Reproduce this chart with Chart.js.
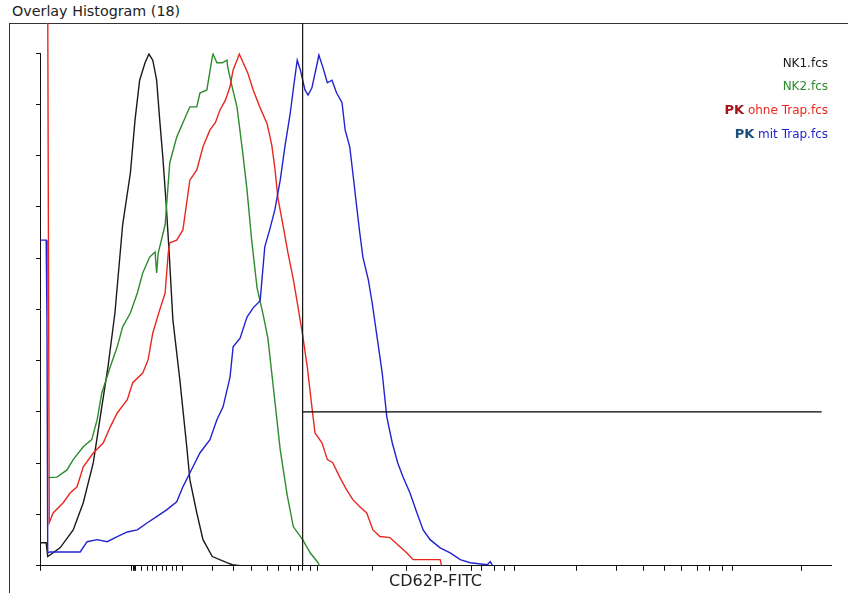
<!DOCTYPE html>
<html>
<head>
<meta charset="utf-8">
<script src="https://cdn.jsdelivr.net/npm/chart.js"></script>
<style>
  body { margin: 0; background: #fff; font-family: "DejaVu Sans", Verdana, sans-serif; }
  #wrap { position: relative; width: 848px; height: 593px; overflow: hidden; }
  #frame { position: absolute; left: 9px; top: 23px; width: 900px; height: 700px;
           border-left: 1px solid #333; border-top: 1px solid #333; }
  #title { position: absolute; left: 12px; top: 3px; font-size: 14.3px; color: #222; white-space: nowrap; }
  #legend { position: absolute; right: 20px; top: 52px; text-align: right; font-size: 12px; line-height: 23px; }
  #legend b { font-size: 13px; }
  canvas { position: absolute; left: 0; top: 0; }
</style>
</head>
<body>
<div id="wrap">
  <div id="frame"></div>
  <div id="title">Overlay Histogram (18)</div>
  <canvas id="myChart" width="848" height="593"></canvas>
  <div id="legend"></div>
</div>
<script>
    // channel (0-1024) and % of max count
    var nk1X = [0, 8, 10, 26, 43, 56, 69, 80, 88, 97, 107, 117, 123, 129, 136, 141, 146, 151, 155, 159, 163, 167, 172, 181, 190, 194, 203, 211, 223, 242, 249, 259]
    var nk1Y = [4.5, 4.5, 1.8, 3.5, 7.0, 12.3, 20.1, 31.0, 38.8, 49.3, 66.5, 76.6, 86.9, 94.7, 98.1, 99.8, 98.6, 94.7, 86.9, 79.7, 71.3, 61.6, 48.0, 36.3, 23.2, 16.8, 10.3, 5.1, 1.8, 0.6, 0.2, 0]

    var nk2X = [10, 22, 35, 43, 56, 67, 74, 80, 91, 100, 107, 117, 126, 133, 142, 149, 151, 153, 162, 168, 177, 185, 194, 203, 207, 216, 223, 224, 229, 236, 242, 243, 249, 255, 262, 268, 274, 281, 289, 295, 302, 311, 320, 328, 340, 350, 359, 362]
    var nk2Y = [17.2, 17.3, 18.7, 20.7, 23.2, 24.6, 28.5, 33.7, 38.8, 42.7, 46.6, 49.3, 53.2, 57.1, 60.2, 61.2, 57.1, 61.0, 66.5, 78.6, 83.6, 86.4, 89.5, 89.5, 92.2, 92.8, 99.2, 99.8, 98.1, 98.1, 98.6, 97.3, 93.2, 89.5, 81.1, 73.3, 63.5, 54.2, 48.9, 44.4, 34.9, 22.6, 13.8, 7.6, 5.1, 2.5, 0.8, 0]

    var pkOhneX = [10, 12, 17, 30, 39, 48, 56, 69, 82, 91, 100, 113, 120, 133, 140, 146, 155, 162, 166, 168, 177, 185, 194, 203, 211, 220, 227, 233, 240, 246, 250, 255, 258, 263, 269, 276, 285, 294, 300, 304, 308, 315, 321, 328, 334, 340, 346, 352, 356, 365, 372, 379, 388, 397, 405, 414, 423, 431, 440, 453, 466, 475, 483, 518, 520]
    var pkOhneY = [110, 8.4, 10.3, 12.3, 14.2, 15.4, 19.3, 22.0, 24.0, 27.1, 29.8, 32.4, 35.7, 37.6, 40.2, 45.4, 49.9, 53.2, 61.0, 63.0, 63.5, 65.5, 75.2, 77.2, 81.7, 85.0, 86.4, 88.9, 90.8, 93.4, 96.7, 98.6, 99.8, 98.1, 96.1, 92.8, 89.3, 86.2, 82.1, 77.6, 71.7, 66.1, 61.0, 55.8, 50.5, 45.0, 38.8, 31.0, 25.9, 24.0, 20.7, 20.1, 17.3, 14.8, 12.9, 11.5, 10.3, 7.0, 5.7, 5.5, 3.7, 2.5, 1.2, 1.2, 0]

    var pkMitX = [0, 8, 9, 10, 13, 52, 61, 74, 87, 100, 113, 126, 139, 151, 164, 177, 185, 194, 207, 220, 229, 237, 246, 250, 259, 268, 276, 285, 291, 298, 304, 311, 317, 324, 329, 333, 337, 343, 347, 352, 359, 361, 366, 372, 378, 384, 391, 395, 401, 405, 410, 414, 418, 425, 430, 436, 443, 449, 456, 463, 470, 479, 488, 496, 505, 518, 531, 544, 557, 579, 583, 586]
    var pkMitY = [63.5, 63.5, 48.3, 2.5, 2.7, 2.7, 4.7, 5.1, 4.7, 5.7, 6.6, 7.0, 8.4, 9.6, 10.9, 12.5, 15.4, 18.1, 22.0, 24.6, 28.5, 31.0, 36.8, 42.7, 44.4, 48.5, 50.3, 51.7, 62.2, 65.9, 69.4, 75.2, 81.7, 88.3, 94.2, 98.6, 96.7, 92.8, 91.8, 93.2, 98.1, 99.6, 97.3, 94.2, 94.7, 92.2, 90.3, 85.0, 81.7, 76.6, 70.0, 64.9, 60.2, 55.8, 51.3, 45.0, 37.6, 29.0, 24.0, 20.1, 17.3, 14.2, 10.3, 7.0, 5.1, 3.5, 2.5, 1.2, 0.6, 0.2, 0.8, 0]

    // marker (gate) position
    var gateX = 340
    var gateEndX = 1012
    var gateY = 30

    // x axis tick marks (log-ish channel axis)
    var xTicks = [0, 119, 121, 122, 124, 132, 139, 145, 151, 158, 164, 171, 177, 184, 223, 250, 274, 294, 309, 324, 334, 340, 350, 359, 431, 475, 506, 532, 558, 572, 588, 601, 614, 695, 746, 781, 808, 831, 851, 867, 883, 896, 986]

    var fileNames = ['NK1.fcs', 'NK2.fcs', 'ohne Trap.fcs', 'mit Trap.fcs']
    var prefixes = ['', '', 'PK', 'PK']
    var lineColors = ['#1a1a1a', '#2e8b2e', '#e8281e', '#2222d0']
    var prefixColors = ['', '', '#a3141a', '#1b4f7c']

    function pts(xs, ys) {
        return xs.map(function(x, i) { return { x: x, y: ys[i] } })
    }

    var legendHtml = ''
    for (var i = 0; i < fileNames.length; i++) {
        var pre = prefixes[i] ? '<b style="color:' + prefixColors[i] + '">' + prefixes[i] + '</b> ' : ''
        legendHtml += '<div>' + pre + '<span style="color:' + lineColors[i] + '">' + fileNames[i] + '</span></div>'
    }
    document.getElementById('legend').innerHTML = legendHtml

    Chart.defaults.font.family = 'DejaVu Sans'

    var ctx = document.getElementById('myChart').getContext('2d');
    var myChart = new Chart(ctx, {
        type: 'line',
        data: {
            datasets: [{
                label: 'gate',
                data: [{ x: gateX, y: 110 }, { x: gateX, y: 0 }],
                borderColor: '#111',
                borderWidth: 1.2,
                clip: { left: 0, top: 30, right: 0, bottom: 0 },
                order: 0
            }, {
                label: 'gate2',
                data: [{ x: gateX, y: gateY }, { x: gateEndX, y: gateY }],
                borderColor: '#000',
                borderWidth: 1.3,
                clip: { left: 0, top: 0, right: 10, bottom: 0 },
                order: 0
            }, {
                label: 'PK ' + fileNames[3],
                data: pts(pkMitX, pkMitY),
                borderColor: lineColors[3],
                order: 1
            }, {
                label: 'PK ' + fileNames[2],
                data: pts(pkOhneX, pkOhneY),
                borderColor: lineColors[2],
                clip: { left: 0, top: 30, right: 0, bottom: 0 },
                order: 2
            }, {
                label: fileNames[1],
                data: pts(nk2X, nk2Y),
                borderColor: lineColors[1],
                order: 3
            }, {
                label: fileNames[0],
                data: pts(nk1X, nk1Y),
                borderColor: lineColors[0],
                order: 4
            }]
        },
        options: {
            responsive: false,
            animation: false,
            layout: { padding: { left: 36, top: 53, right: 17, bottom: 2 } },
            elements: {
                line: { borderWidth: 1.4, tension: 0, fill: false },
                point: { radius: 0 }
            },
            plugins: {
                legend: { display: false },
                tooltip: { enabled: false }
            },
            scales: {
                x: {
                    type: 'linear',
                    min: 0,
                    max: 1024,
                    afterBuildTicks: function(scale) {
                        scale.ticks = xTicks.map(function(v) { return { value: v } })
                    },
                    ticks: { display: false },
                    grid: { drawOnChartArea: false, drawTicks: true, tickLength: 5, color: '#111' },
                    border: { color: '#111', width: 1 },
                    title: {
                        display: true,
                        text: 'CD62P-FITC',
                        color: '#222',
                        font: { size: 16 },
                        padding: { top: 1, bottom: 0 }
                    }
                },
                y: {
                    min: 0,
                    max: 100,
                    ticks: { display: false, stepSize: 10 },
                    grid: { drawOnChartArea: false, drawTicks: true, tickLength: 4, color: '#111' },
                    border: { color: '#111', width: 1 }
                }
            }
        }
    });
</script>
</body>
</html>
